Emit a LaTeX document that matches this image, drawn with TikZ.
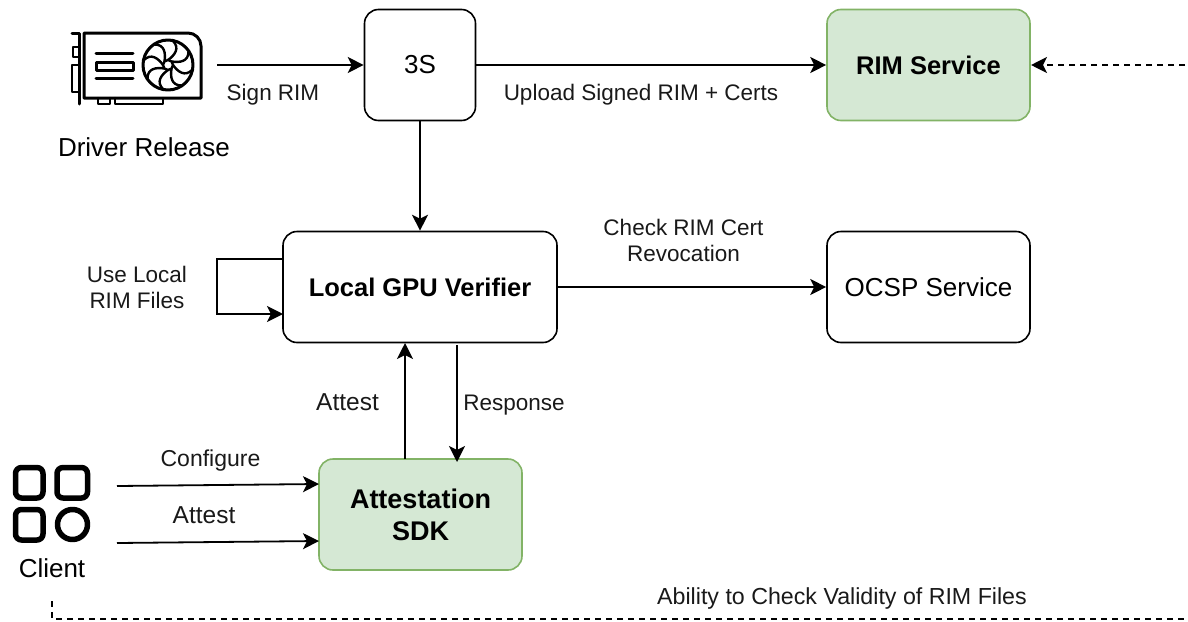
\documentclass[tikz,border=0pt]{standalone}
\usepackage{fontspec}
\setmainfont{Liberation Sans}
\usetikzlibrary{arrows.meta}
\definecolor{gfill}{HTML}{D5E8D4}
\definecolor{gline}{HTML}{82B366}
\newcommand{\fs}[2]{\fontsize{#1pt}{#2pt}\selectfont}
\tikzset{
 boxw/.style={draw=black,line width=1.6pt,rounded corners=14pt,fill=white,inner sep=0pt},
 boxg/.style={draw=gline,line width=1.6pt,rounded corners=14pt,fill=gfill,inner sep=0pt},
 conn/.style={line width=1.8pt,-{Stealth[length=16pt,width=16pt,inset=4pt]}},
 dashconn/.style={line width=1.8pt,dash pattern=on 6pt off 5pt},
 lab/.style={inner sep=0pt,align=center,font=\fs{22.5}{26},text=black!90},
 title/.style={inner sep=0pt,align=center,font=\fs{26}{29}},
 bold/.style={inner sep=0pt,align=center,font=\fs{25.5}{32}\bfseries},
 icon/.style={line width=3pt,line join=round,line cap=round},
 icon2/.style={line width=5.5pt,line join=round},
}
\begin{document}
\begin{tikzpicture}[x=1pt,y=-1pt]
\useasboundingbox (0,0) rectangle (1188,621);
% boxes
\node[boxw,minimum width=111pt,minimum height=111pt] (s3) at (420,65) {};
\node[title] (s3t) at (s3) {3S};
\node[boxg,minimum width=203pt,minimum height=111pt] (rim) at (928.5,65) {};
\node[bold] (rimt) at (rim) {RIM Service};
\node[boxw,minimum width=274pt,minimum height=111pt] (lgv) at (420,287) {};
\node[bold] (lgvt) at (lgv) {Local GPU Verifier};
\node[boxw,minimum width=203pt,minimum height=111pt] (ocsp) at (928.5,287) {};
\node[title] (ocspt) at (ocsp) {OCSP Service};
\node[boxg,minimum width=203pt,minimum height=111pt] (sdk) at (420.5,514.5) {};
\node[bold,font=\fs{27}{32}\bfseries] (sdkt) at (sdk) {Attestation\\SDK};
% free ends
\coordinate (gpuout) at (217,65);
\coordinate (dashin) at (1185,65);
\coordinate (c1) at (117,486);
\coordinate (c2) at (117,543);
\coordinate (d1) at (52,601);
\coordinate (d2) at (52,619);
\coordinate (d3) at (1188,619);
\coordinate (l0) at (283,259);
\coordinate (l1) at (217,259);
\coordinate (l2) at (217,314);
\coordinate (l3) at (283,314);
\coordinate (a0) at (405,459);
\coordinate (a1) at (405,343);
\coordinate (r0) at (457,345);
\coordinate (r1) at (457,462);
\coordinate (t1) at (319,484);
\coordinate (t2) at (319,541);
\coordinate (dashend) at (1031,65);
% connectors
\draw[conn] (gpuout) -- (gpuout -| s3.west);
\draw[conn] (s3.east) -- (rim.west);
\draw[conn] (s3.south) -- (lgv.north -| s3.south);
\draw[conn] (lgv.east) -- (ocsp.west);
\draw[conn] (l0) -- (l1) -- (l2) -- (l3);
\draw[conn] (a0) -- (a1);
\draw[conn] (r0) -- (r1);
\draw[conn] (c1) -- (t1);
\draw[conn] (c2) -- (t2);
\draw[conn,dash pattern=on 6pt off 5pt] (dashin) -- (dashend);
\draw[dashconn] (d1) -- (d2) -- (d3);
% labels
\node[lab,anchor=base] (l-a) at (273,100.5) {Sign RIM};
\node[lab,anchor=base] (l-b) at (641,100.5) {Upload Signed RIM + Certs};
\node[title,anchor=base] (l-c) at (144,156.5) {Driver Release};
\node[lab] (l-d) at (683.5,240) {Check RIM Cert\\Revocation};
\node[lab] (l-e) at (137,287) {Use Local\\RIM Files};
\node[lab,anchor=base,font=\fs{24.5}{26}] (l-f) at (347.5,410.5) {Attest};
\node[lab,anchor=base] (l-g) at (514,410.5) {Response};
\node[lab,anchor=base,font=\fs{23}{26}] (l-h) at (210.5,466) {Configure};
\node[lab,anchor=base,font=\fs{24.5}{26}] (l-i) at (204,523) {Attest};
\node[title,anchor=base] (l-j) at (52,577.5) {Client};
\node[lab,anchor=base,font=\fs{23.2}{26}] (l-k) at (842,604) {Ability to Check Validity of RIM Files};
% GPU icon
\draw[icon] (84,33) -- (188,33) arc[start angle=90,end angle=0,radius=13pt] -- (201,98) -- (84,98) -- cycle;
\draw[icon] (72,33) -- (79,33) -- (79,104);
\draw[icon,line width=2.2pt] (79,47) -- (73,47) -- (73,57) -- (79,57);
\draw[icon,line width=2.2pt] (79,65) -- (72,65) -- (72,92) -- (79,92);
\draw[icon,line width=2.2pt] (98,98) -- (98,104) -- (110,104) -- (110,98);
\draw[icon,line width=2.2pt] (115,98) -- (115,104) -- (163,104) -- (163,98);
\draw[icon] (96,53) -- (133,53);
\draw[icon] (96,62) rectangle (133,70);
\draw[icon] (96,78) -- (133,78);
\draw[icon] (168,65) circle[radius=25pt];
\draw[icon,line width=2.4pt] (168,65) circle[radius=5pt];
\foreach \a in {0,45,...,315}{
 \draw[line width=2.4pt,line cap=round,shift={(168,65)},rotate=\a] (0,-5) .. controls (7,-10) and (12,-17) .. (5,-24);
}
% client icon
\draw[icon2,rounded corners=6pt] (15.5,467.5) rectangle (43,498);
\draw[icon2,rounded corners=6pt] (57,467.5) rectangle (87.5,498);
\draw[icon2,rounded corners=6pt] (15.5,509.5) rectangle (43,540);
\draw[icon2] (72.5,524.5) circle[radius=15pt];
\end{tikzpicture}
\end{document}
